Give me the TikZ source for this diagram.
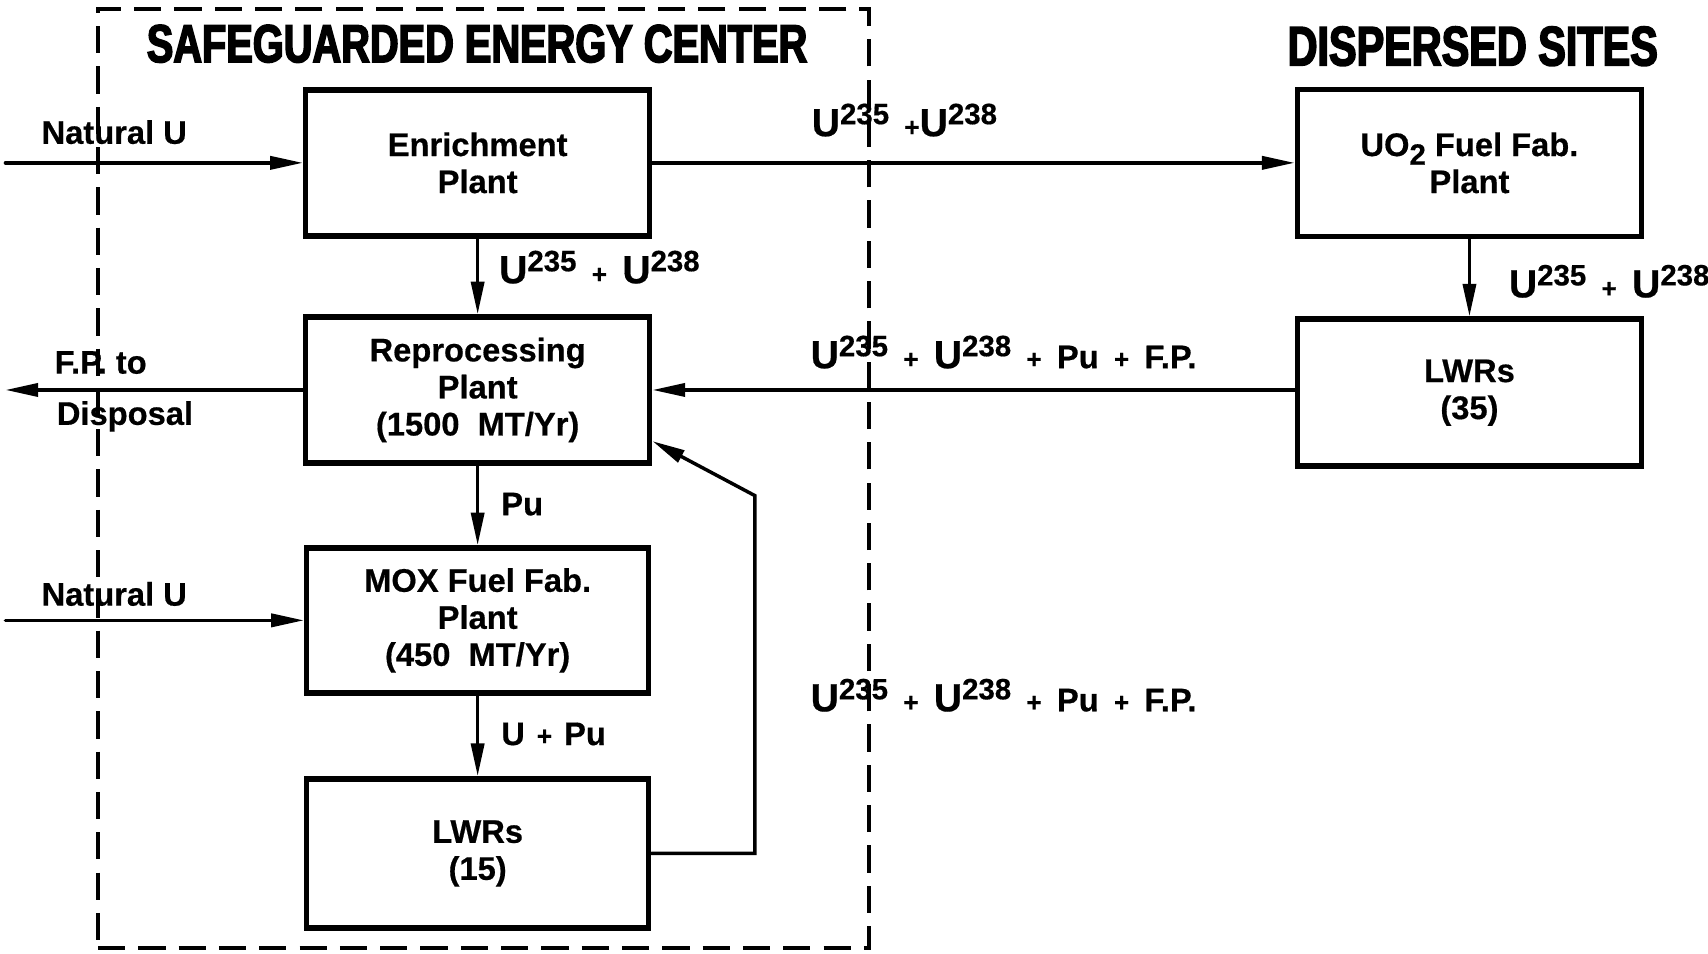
\documentclass[tikz,border=0pt]{standalone}
\usepackage{fontspec}
\setmainfont{Liberation Sans}[FakeBold=0.5]
\newfontfamily\ttlfam{Liberation Sans}[FakeStretch=0.745,FakeBold=3]
\usetikzlibrary{arrows.meta}
\newcommand\boxfnt{\fontsize{30}{34}\selectfont\bfseries}
\newcommand\ttlfnt{\ttlfam\fontsize{49}{50}\selectfont\bfseries}
\newcommand\isoU[1]{{\fontsize{36}{36}\selectfont U}\raisebox{11pt}{\fontsize{27}{27}\selectfont #1}}
\newcommand\smallplus{{\fontsize{24}{24}\selectfont +}}
\newcommand\gap{\hspace{14pt}}
\begin{document}
\begin{tikzpicture}[x=1pt,y=-1pt,
  stepbox/.style={draw, line width=5pt, minimum width=316pt, minimum height=134pt,
    align=center, font=\boxfnt, inner sep=0pt},
  flow/.style={line width=3.2pt, line cap=round, -{Triangle[length=30pt,width=12pt]}},
  lbl/.style={anchor=base west, inner sep=0pt, font=\boxfnt},
  ttl/.style={anchor=base, inner sep=0pt, font=\ttlfnt},
  frame/.style={draw, line width=4pt, dash pattern=on 25pt off 12pt, minimum width=708pt,
    minimum height=862pt, inner sep=0pt}]
\useasboundingbox (0,0) rectangle (1568,875);
% frame
\node[frame] (center) at (444,439) {};
\node[ttl] (t1) at (438,57) {SAFEGUARDED ENERGY CENTER};
\node[ttl, font=\ttlfam\fontsize{51}{52}\selectfont\bfseries] (t2) at (1352,60) {DISPERSED SITES};
% boxes
\node[stepbox] (enrich) at (438.5,149.5) {Enrichment\\Plant};
\node[stepbox] (repro) at (438.5,358) {Reprocessing\\Plant\\(1500~~MT/Yr)};
\node[stepbox, minimum width=314pt, minimum height=133pt] (mox) at (438.5,569.5) {MOX Fuel Fab.\\Plant\\(450~~MT/Yr)};
\node[stepbox, minimum width=314pt, minimum height=137pt] (lwra) at (438.5,783.5) {LWRs\\(15)};
\node[stepbox, minimum height=135pt] (uo2) at (1349,149.5) {UO\raisebox{-8pt}{\fontsize{27}{27}\selectfont 2} Fuel Fab.\\Plant};
\node[stepbox, minimum height=135pt] (lwrb) at (1349,360.5) {LWRs\\(35)};
% free ends
\coordinate (nua) at (5,149.5);
\coordinate (nub) at (5,569.5);
\coordinate (disp) at (5,358);
\coordinate (fb) at (693,455);
% connectors
\draw[flow] (nua) -- (enrich.west);
\draw[flow] (nub) -- (mox.west);
\draw[flow] (enrich.east) -- (enrich.east -| uo2.west);
\draw[flow] (enrich.south) -- (repro.north);
\draw[flow] (repro.south) -- (mox.north);
\draw[flow] (mox.south) -- (lwra.north);
\draw[flow] (uo2.south) -- (lwrb.north);
\draw[flow] (lwrb.west |- repro.east) -- (repro.east);
\draw[flow] (repro.west) -- (disp);
\draw[flow] (lwra.east) -| (fb) -- ([yshift=-47pt]repro.east);
% labels
\node[lbl] (l1) at (38,132) {Natural U};
\node[lbl] (l2) at (38,556) {Natural U};
\node[lbl] (l3) at (745,125) {\isoU{235}\gap\smallplus\isoU{238}};
\node[lbl] (l4) at (458,260) {\isoU{235}\gap\smallplus\gap\isoU{238}};
\node[lbl] (l5) at (1385,273) {\isoU{235}\gap\smallplus\gap\isoU{238}};
\node[lbl] (l6) at (744,338) {\isoU{235}\gap\smallplus\gap\isoU{238}\gap\smallplus\gap Pu\gap\smallplus\gap F.P.};
\node[lbl] (l7) at (744,653) {\isoU{235}\gap\smallplus\gap\isoU{238}\gap\smallplus\gap Pu\gap\smallplus\gap F.P.};
\node[lbl] (l8) at (50,343) {F.P. to};
\node[lbl] (l9) at (52,390) {Disposal};
\node[lbl] (l10) at (460,473) {Pu};
\node[lbl] (l11) at (460,684) {U\hspace{11pt}\smallplus\hspace{11pt}Pu};
\end{tikzpicture}
\end{document}
